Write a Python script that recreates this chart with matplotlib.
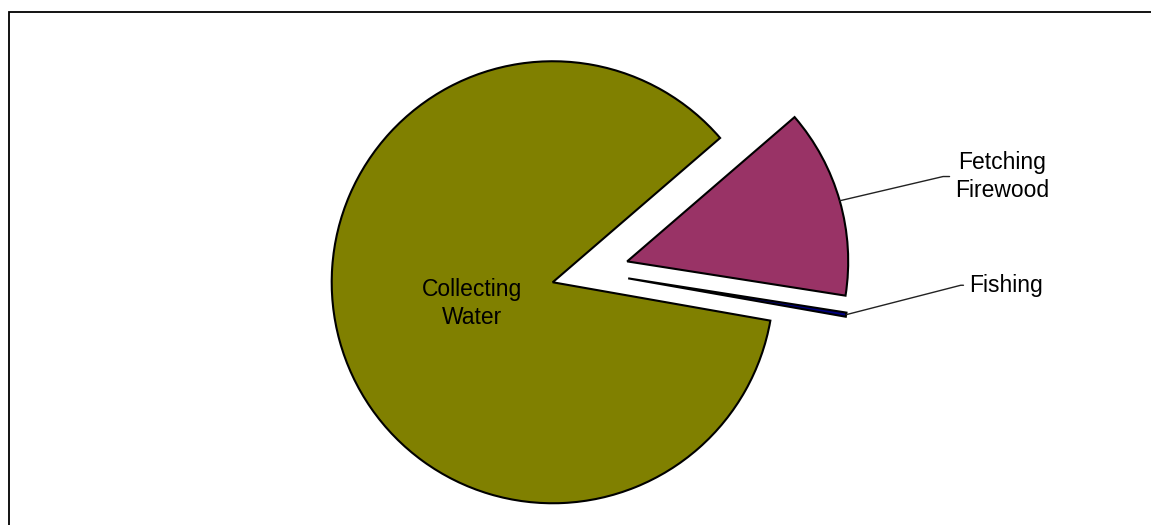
import numpy as np
import matplotlib
matplotlib.use("Agg")
import matplotlib.pyplot as plt
from matplotlib.patches import Rectangle

plt.rcParams['font.family'] = ['Liberation Sans', 'DejaVu Sans']

labels = ['Collecting\nWater', 'Fetching\nFirewood', 'Fishing']
shares = [85.9, 13.8, 0.3]
colors = ['#808000', '#993366', '#000080']
explode = [0.175, 0.175, 0.175]

W, H = 1151, 525
R = 221.0               # pie radius in pixels
cx, cy = 590.0, 272.0   # pie centre in pixels (from top-left)

fig = plt.figure(figsize=(W / 100, H / 100), dpi=100)
ax = fig.add_axes([0, 0, 1, 1])

wedges, _ = ax.pie(shares, colors=colors, explode=explode, startangle=350.0,
                   counterclock=False, radius=1.0,
                   wedgeprops=dict(edgecolor='black', linewidth=1.5))

ax.set_aspect('auto')
ax.set_xlim(-cx / R, (W - cx) / R)
ax.set_ylim(-(H - cy) / R, cy / R)
ax.axis('off')

# inside label for the big slice
w = wedges[0]
th = np.deg2rad((w.theta1 + w.theta2) / 2)
ax.text(w.center[0] + 0.38 * np.cos(th), w.center[1] + 0.38 * np.sin(th) + 0.005,
        labels[0], ha='center', va='center', fontsize=16.5, linespacing=1.32)

# outside labels with leader lines
text_pos = [None, (1.865, 0.432), (1.715, -0.06)]
text_ha = [None, 'center', 'left']
bend = [None, 13.2, 14.4]
for i in (1, 2):
    w = wedges[i]
    th = np.deg2rad((w.theta1 + w.theta2) / 2)
    xy = (w.center[0] + np.cos(th), w.center[1] + np.sin(th))
    ax.annotate(labels[i], xy=xy, xytext=text_pos[i], ha=text_ha[i], va='center',
                fontsize=16.5, linespacing=1.32,
                arrowprops=dict(arrowstyle='-', color='#222222', lw=1.0,
                                shrinkB=0,
                                connectionstyle='angle,angleA=0,angleB=%g,rad=0' % bend[i]))

# chart area frame (cut off at right and bottom)
fig.patches.append(Rectangle((8.5 / W, -0.05), 1.2, (H - 12.0) / H + 0.05,
                             transform=fig.transFigure, fill=False,
                             edgecolor='black', linewidth=1.3))

fig.savefig('out.png', dpi=100)
